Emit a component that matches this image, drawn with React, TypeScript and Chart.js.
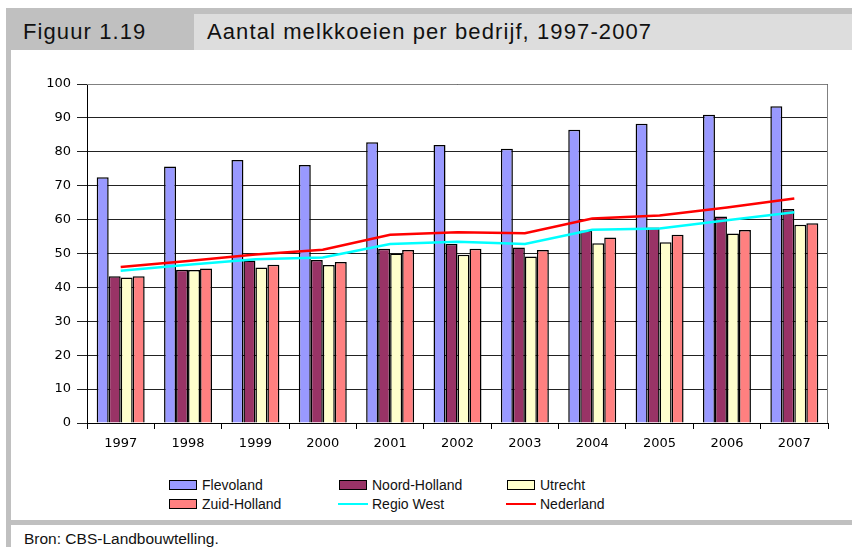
import React, { useEffect, useRef } from "react";
import { Chart, registerables } from "chart.js";

Chart.register(...registerables);

const years = ["1997", "1998", "1999", "2000", "2001", "2002", "2003", "2004", "2005", "2006", "2007"];
const flevoland = [72.5, 75.7, 77.6, 76.1, 82.8, 82.0, 80.9, 86.5, 88.3, 90.9, 93.4];
const noordHolland = [43.3, 45.2, 47.9, 48.1, 51.4, 52.8, 51.8, 56.8, 57.7, 60.9, 63.1];
const utrecht = [42.9, 45.1, 45.9, 46.6, 50.0, 49.6, 49.1, 53.0, 53.3, 55.9, 58.5];
const zuidHolland = [43.3, 45.6, 46.7, 47.5, 51.0, 51.4, 51.0, 54.7, 55.5, 56.9, 58.9];
const regioWest = [44.9, 46.7, 48.3, 48.8, 52.8, 53.5, 52.8, 57.0, 57.4, 59.8, 62.2];
const nederland = [46.0, 47.8, 49.7, 51.1, 55.5, 56.3, 56.0, 60.3, 61.2, 63.6, 66.2];
const yTicks = [0, 10, 20, 30, 40, 50, 60, 70, 80, 90, 100];

const title = "Aantal melkkoeien per bedrijf, 1997-2007";
const figLabel = "Figuur 1.19";
const source = "Bron: CBS-Landbouwtelling.";

const barSeries = [
  { label: "Flevoland", data: flevoland, color: "#9999FF" },
  { label: "Noord-Holland", data: noordHolland, color: "#993366" },
  { label: "Utrecht", data: utrecht, color: "#FFFFCC" },
  { label: "Zuid-Holland", data: zuidHolland, color: "#FF8080" },
];
const lineSeries = [
  { label: "Regio West", data: regioWest, color: "#00FFFF" },
  { label: "Nederland", data: nederland, color: "#FF0000" },
];

const legendOrder = [
  { ...barSeries[0], kind: "bar" },
  { ...barSeries[1], kind: "bar" },
  { ...barSeries[2], kind: "bar" },
  { ...barSeries[3], kind: "bar" },
  { ...lineSeries[0], kind: "line" },
  { ...lineSeries[1], kind: "line" },
];

const plotBorder = {
  id: "plotBorder",
  beforeDatasetsDraw(chart: any) {
    const { ctx, chartArea } = chart;
    ctx.save();
    ctx.strokeStyle = "#808080";
    ctx.lineWidth = 1;
    ctx.beginPath();
    ctx.moveTo(chartArea.left, chartArea.top + 0.5);
    ctx.lineTo(chartArea.right - 0.5, chartArea.top + 0.5);
    ctx.lineTo(chartArea.right - 0.5, chartArea.bottom);
    ctx.stroke();
    ctx.restore();
  },
};

export default function App() {
  const canvasRef = useRef<HTMLCanvasElement | null>(null);

  useEffect(() => {
    if (!canvasRef.current) return;
    const datasets: any[] = [
      ...lineSeries.map((s) => ({
        type: "line",
        label: s.label,
        data: s.data,
        borderColor: s.color,
        backgroundColor: s.color,
        borderWidth: 2.5,
        pointRadius: 0,
        tension: 0,
        order: 0,
      })),
      ...barSeries.map((s) => ({
        type: "bar",
        label: s.label,
        data: s.data,
        backgroundColor: s.color,
        borderColor: "#000000",
        borderWidth: 1.5,
        barPercentage: 1,
        categoryPercentage: 0.712,
        order: 1,
      })),
    ];
    const chart = new Chart(canvasRef.current, {
      type: "bar",
      data: { labels: years, datasets },
      options: {
        animation: false,
        responsive: false,
        maintainAspectRatio: false,
        layout: { padding: { top: 32, right: 24, left: 0, bottom: 0 } },
        plugins: { legend: { display: false }, tooltip: { enabled: false }, title: { display: false } },
        scales: {
          x: {
            offset: true,
            afterFit: (scale: any) => {
              scale.height = 49;
            },
            grid: {
              display: true,
              drawOnChartArea: false,
              drawTicks: true,
              tickLength: 6,
              color: "#000000",
              offset: true,
            },
            border: { display: true, color: "#000000", width: 1 },
            ticks: {
              color: "#000000",
              padding: 7,
              maxRotation: 0,
              font: { family: "'DejaVu Sans', Verdana, sans-serif", size: 13 },
            },
          },
          y: {
            min: 0,
            max: 100,
            afterFit: (scale: any) => {
              scale.width = 77;
            },
            afterBuildTicks: (scale: any) => {
              scale.ticks = yTicks.map((v) => ({ value: v }));
            },
            grid: {
              color: "#222222",
              lineWidth: 1,
              drawTicks: true,
              tickLength: 10,
            },
            border: { display: true, color: "#000000", width: 1 },
            ticks: {
              color: "#000000",
              padding: 6,
              font: { family: "'DejaVu Sans', Verdana, sans-serif", size: 13 },
            },
          },
        },
      },
      plugins: [plotBorder],
    } as any);
    return () => chart.destroy();
  }, []);

  const sans = "'Liberation Sans', Arial, sans-serif";
  const colX = [169, 339, 507];
  const rowY = [485, 504];

  return (
    <div style={{ position: "absolute", left: 0, top: 0, width: 852, height: 547, background: "#ffffff", overflow: "hidden", fontFamily: sans }}>
      <div style={{ position: "absolute", left: 6, top: 8, width: 846, height: 42, background: "#c0c0c0" }} />
      <div style={{ position: "absolute", left: 194, top: 14, width: 658, height: 36, background: "#dddddd" }} />
      <div style={{ position: "absolute", left: 23, top: 18, fontSize: 22, letterSpacing: "1.1px", lineHeight: "28px", color: "#111", whiteSpace: "nowrap" }}>{figLabel}</div>
      <div style={{ position: "absolute", left: 207, top: 18, fontSize: 22, letterSpacing: "1.1px", lineHeight: "28px", color: "#111", whiteSpace: "nowrap" }}>{title}</div>
      <div style={{ position: "absolute", left: 6, top: 50, width: 5, height: 497, background: "#c0c0c0" }} />
      <div style={{ position: "absolute", left: 6, top: 520, width: 846, height: 5, background: "#c0c0c0" }} />
      <canvas ref={canvasRef} width={842} height={420} style={{ position: "absolute", left: 10, top: 52, width: 842, height: 420 }} />
      {legendOrder.map((s, i) => {
        const col = i % 3;
        const row = Math.floor(i / 3);
        const x = colX[col];
        const y = rowY[row];
        return (
          <div key={s.label}>
            {s.kind === "bar" ? (
              <div style={{ position: "absolute", left: x, top: y - 5, width: 26, height: 8, background: s.color, border: "1px solid #000" }} />
            ) : (
              <div style={{ position: "absolute", left: x - 1, top: y - 1, width: 30, height: 2, background: s.color }} />
            )}
            <div style={{ position: "absolute", left: x + 33, top: y - 9, fontSize: 14, lineHeight: "18px", color: "#111", whiteSpace: "nowrap" }}>{s.label}</div>
          </div>
        );
      })}
      <div style={{ position: "absolute", left: 24, top: 530, fontSize: 15.5, lineHeight: "17px", color: "#111", whiteSpace: "nowrap" }}>{source}</div>
    </div>
  );
}
